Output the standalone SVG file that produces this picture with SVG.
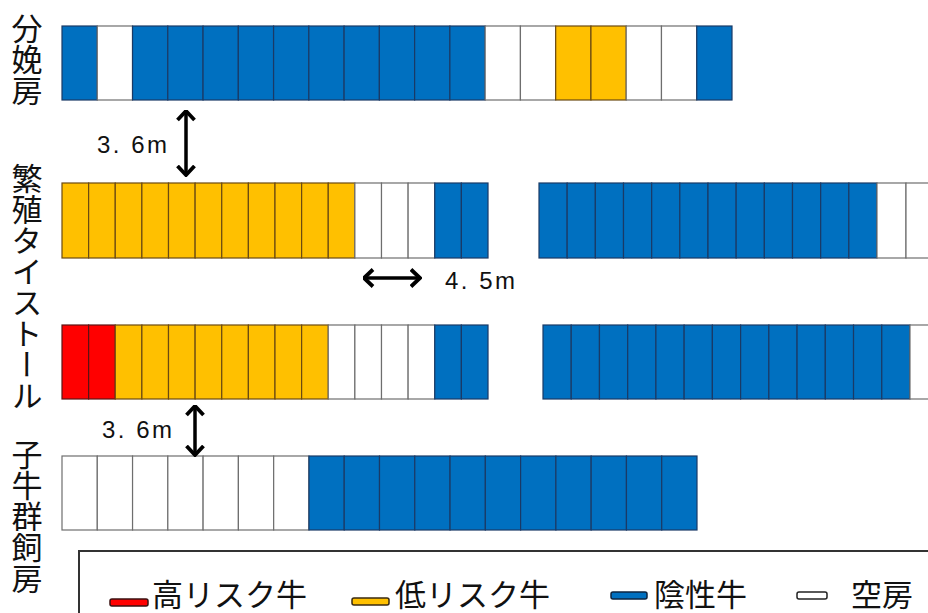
<svg xmlns="http://www.w3.org/2000/svg" width="928" height="613" viewBox="0 0 928 613">
  <style>
    .b { fill: #0070c0; stroke: #1a3a66; stroke-width: 1.2; }
    .y { fill: #ffc000; stroke: #6b4a12; stroke-width: 1.2; }
    .w { fill: #ffffff; stroke: #6e6e6e; stroke-width: 1.2; }
    .r { fill: #ff0000; stroke: #5a1414; stroke-width: 1.2; }
    .vlabel { font-family: "Noto Sans CJK JP", "Noto Sans", sans-serif; font-size: 31px; fill: #111; writing-mode: vertical-rl; }
    .dim { font-family: "Liberation Sans", "Noto Sans CJK JP", sans-serif; font-size: 24px; fill: #111; }
    .leg { font-family: "Noto Sans CJK JP", "Noto Sans", sans-serif; font-size: 31px; fill: #111; }
    .arrow { stroke: #000; stroke-width: 3.5; fill: none; marker-start: url(#head); marker-end: url(#head); }
  </style>
  <defs>
    <marker id="head" viewBox="0 0 12 20" markerWidth="12" markerHeight="20" refX="10.5" refY="10" orient="auto-start-reverse" markerUnits="userSpaceOnUse">
      <path d="M1.5,1.5 L10.5,10 L1.5,18.5" fill="none" stroke="#000" stroke-width="3.8" stroke-linejoin="miter"/>
    </marker>
  </defs>
  <rect width="928" height="613" fill="#ffffff"/>

  <!-- row labels -->
  <g id="label-farrowing"><text class="vlabel" x="27" y="13">分娩房</text></g>
  <g id="label-tiestall"><text class="vlabel" x="27" y="163">繁殖タイストール</text></g>
  <g id="label-calf"><text class="vlabel" x="27" y="439">子牛群飼房</text></g>

  <!-- farrowing pens -->
  <g id="row-farrowing">
    <rect class="b" x="62" y="26" width="35.26" height="74"/>
    <rect class="w" x="97.26" y="26" width="35.26" height="74"/>
    <rect class="b" x="132.53" y="26" width="35.26" height="74"/>
    <rect class="b" x="167.79" y="26" width="35.26" height="74"/>
    <rect class="b" x="203.05" y="26" width="35.26" height="74"/>
    <rect class="b" x="238.32" y="26" width="35.26" height="74"/>
    <rect class="b" x="273.58" y="26" width="35.26" height="74"/>
    <rect class="b" x="308.84" y="26" width="35.26" height="74"/>
    <rect class="b" x="344.1" y="26" width="35.26" height="74"/>
    <rect class="b" x="379.37" y="26" width="35.26" height="74"/>
    <rect class="b" x="414.63" y="26" width="35.26" height="74"/>
    <rect class="b" x="449.89" y="26" width="35.26" height="74"/>
    <rect class="w" x="485.16" y="26" width="35.26" height="74"/>
    <rect class="w" x="520.42" y="26" width="35.26" height="74"/>
    <rect class="y" x="555.68" y="26" width="35.26" height="74"/>
    <rect class="y" x="590.95" y="26" width="35.26" height="74"/>
    <rect class="w" x="626.21" y="26" width="35.26" height="74"/>
    <rect class="w" x="661.47" y="26" width="35.26" height="74"/>
    <rect class="b" x="696.74" y="26" width="35.26" height="74"/>
  </g>

  <!-- tie stall, upper line -->
  <g id="row-tiestall-1">
    <rect class="y" x="62" y="183" width="26.63" height="75"/>
    <rect class="y" x="88.63" y="183" width="26.63" height="75"/>
    <rect class="y" x="115.25" y="183" width="26.63" height="75"/>
    <rect class="y" x="141.88" y="183" width="26.63" height="75"/>
    <rect class="y" x="168.5" y="183" width="26.63" height="75"/>
    <rect class="y" x="195.13" y="183" width="26.63" height="75"/>
    <rect class="y" x="221.75" y="183" width="26.63" height="75"/>
    <rect class="y" x="248.38" y="183" width="26.63" height="75"/>
    <rect class="y" x="275" y="183" width="26.63" height="75"/>
    <rect class="y" x="301.63" y="183" width="26.63" height="75"/>
    <rect class="y" x="328.25" y="183" width="26.63" height="75"/>
    <rect class="w" x="354.88" y="183" width="26.63" height="75"/>
    <rect class="w" x="381.5" y="183" width="26.63" height="75"/>
    <rect class="w" x="408.13" y="183" width="26.63" height="75"/>
    <rect class="b" x="434.75" y="183" width="26.63" height="75"/>
    <rect class="b" x="461.38" y="183" width="26.63" height="75"/>

    <rect class="b" x="539" y="183" width="28.17" height="75"/>
    <rect class="b" x="567.17" y="183" width="28.17" height="75"/>
    <rect class="b" x="595.33" y="183" width="28.17" height="75"/>
    <rect class="b" x="623.5" y="183" width="28.17" height="75"/>
    <rect class="b" x="651.67" y="183" width="28.17" height="75"/>
    <rect class="b" x="679.83" y="183" width="28.17" height="75"/>
    <rect class="b" x="708" y="183" width="28.17" height="75"/>
    <rect class="b" x="736.17" y="183" width="28.17" height="75"/>
    <rect class="b" x="764.33" y="183" width="28.17" height="75"/>
    <rect class="b" x="792.5" y="183" width="28.17" height="75"/>
    <rect class="b" x="820.67" y="183" width="28.17" height="75"/>
    <rect class="b" x="848.83" y="183" width="28.17" height="75"/>
    <rect class="w" x="877" y="183" width="29" height="75"/>
    <rect class="w" x="906" y="183" width="29" height="75"/>
  </g>

  <!-- tie stall, lower line -->
  <g id="row-tiestall-2">
    <rect class="r" x="62" y="325" width="26.63" height="74"/>
    <rect class="r" x="88.63" y="325" width="26.63" height="74"/>
    <rect class="y" x="115.25" y="325" width="26.63" height="74"/>
    <rect class="y" x="141.88" y="325" width="26.63" height="74"/>
    <rect class="y" x="168.5" y="325" width="26.63" height="74"/>
    <rect class="y" x="195.13" y="325" width="26.63" height="74"/>
    <rect class="y" x="221.75" y="325" width="26.63" height="74"/>
    <rect class="y" x="248.38" y="325" width="26.63" height="74"/>
    <rect class="y" x="275" y="325" width="26.63" height="74"/>
    <rect class="y" x="301.63" y="325" width="26.63" height="74"/>
    <rect class="w" x="328.25" y="325" width="26.63" height="74"/>
    <rect class="w" x="354.88" y="325" width="26.63" height="74"/>
    <rect class="w" x="381.5" y="325" width="26.63" height="74"/>
    <rect class="w" x="408.13" y="325" width="26.63" height="74"/>
    <rect class="b" x="434.75" y="325" width="26.63" height="74"/>
    <rect class="b" x="461.38" y="325" width="26.63" height="74"/>

    <rect class="b" x="543" y="325" width="28.23" height="74"/>
    <rect class="b" x="571.23" y="325" width="28.23" height="74"/>
    <rect class="b" x="599.46" y="325" width="28.23" height="74"/>
    <rect class="b" x="627.69" y="325" width="28.23" height="74"/>
    <rect class="b" x="655.92" y="325" width="28.23" height="74"/>
    <rect class="b" x="684.15" y="325" width="28.23" height="74"/>
    <rect class="b" x="712.38" y="325" width="28.23" height="74"/>
    <rect class="b" x="740.62" y="325" width="28.23" height="74"/>
    <rect class="b" x="768.85" y="325" width="28.23" height="74"/>
    <rect class="b" x="797.08" y="325" width="28.23" height="74"/>
    <rect class="b" x="825.31" y="325" width="28.23" height="74"/>
    <rect class="b" x="853.54" y="325" width="28.23" height="74"/>
    <rect class="b" x="881.77" y="325" width="28.23" height="74"/>
    <rect class="w" x="910" y="325" width="30" height="74"/>
  </g>

  <!-- calf group pens -->
  <g id="row-calf">
    <rect class="w" x="62" y="456" width="35.28" height="74"/>
    <rect class="w" x="97.28" y="456" width="35.28" height="74"/>
    <rect class="w" x="132.56" y="456" width="35.28" height="74"/>
    <rect class="w" x="167.83" y="456" width="35.28" height="74"/>
    <rect class="w" x="203.11" y="456" width="35.28" height="74"/>
    <rect class="w" x="238.39" y="456" width="35.28" height="74"/>
    <rect class="w" x="273.67" y="456" width="35.28" height="74"/>
    <rect class="b" x="308.94" y="456" width="35.28" height="74"/>
    <rect class="b" x="344.22" y="456" width="35.28" height="74"/>
    <rect class="b" x="379.5" y="456" width="35.28" height="74"/>
    <rect class="b" x="414.78" y="456" width="35.28" height="74"/>
    <rect class="b" x="450.06" y="456" width="35.28" height="74"/>
    <rect class="b" x="485.33" y="456" width="35.28" height="74"/>
    <rect class="b" x="520.61" y="456" width="35.28" height="74"/>
    <rect class="b" x="555.89" y="456" width="35.28" height="74"/>
    <rect class="b" x="591.17" y="456" width="35.28" height="74"/>
    <rect class="b" x="626.44" y="456" width="35.28" height="74"/>
    <rect class="b" x="661.72" y="456" width="35.28" height="74"/>
  </g>

  <!-- distance arrows -->
  <g id="connectors">
    <line class="arrow" x1="186" y1="111" x2="186" y2="175"/>
    <line class="arrow" x1="364" y1="278" x2="420" y2="278"/>
    <line class="arrow" x1="195" y1="406" x2="195" y2="455"/>
  </g>
  <g id="dimensions">
    <text class="dim" x="97" y="153" textLength="70" lengthAdjust="spacing">3. 6m</text>
    <text class="dim" x="445" y="289" textLength="70" lengthAdjust="spacing">4. 5m</text>
    <text class="dim" x="102" y="438" textLength="70" lengthAdjust="spacing">3. 6m</text>
  </g>

  <!-- legend -->
  <g id="legend">
    <rect x="79" y="551" width="880" height="100" fill="none" stroke="#333" stroke-width="2"/>
    <rect x="110" y="599" width="38" height="7" rx="2" fill="#ff0000" stroke="#3a1010" stroke-width="1.5"/>
    <text class="leg" x="152" y="606">高リスク牛</text>
    <rect x="352" y="598" width="37" height="7" rx="2" fill="#ffc000" stroke="#3a2a10" stroke-width="1.5"/>
    <text class="leg" x="395" y="606">低リスク牛</text>
    <rect x="611" y="592" width="36" height="7" rx="2" fill="#0070c0" stroke="#0d2440" stroke-width="1.5"/>
    <text class="leg" x="654" y="606">陰性牛</text>
    <rect x="797" y="592" width="30" height="7" rx="2" fill="#ffffff" stroke="#222" stroke-width="1.5"/>
    <text class="leg" x="851" y="606">空房</text>
  </g>
</svg>
